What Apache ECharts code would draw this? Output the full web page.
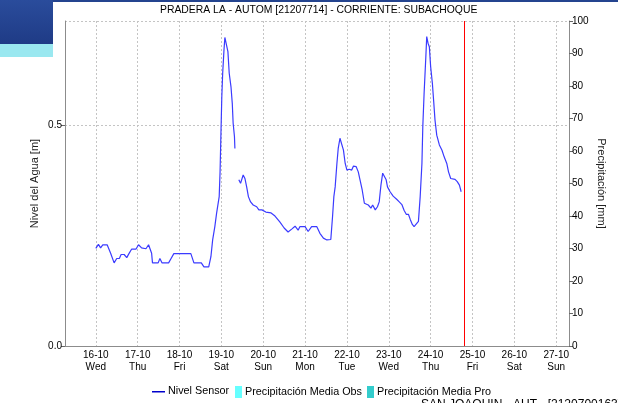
<!DOCTYPE html>
<html>
<head>
<meta charset="utf-8">
<script src="https://cdn.jsdelivr.net/npm/echarts@6/dist/echarts.min.js"></script>
<style>
  html, body { margin: 0; padding: 0; background: #ffffff; }
  #chart { width: 618px; height: 403px; }
</style>
</head>
<body>
<div id="chart"></div>
<script>
// Water level readings (m), station 21207714
const fechas = [
  '2024-10-16 00:00','2024-10-16 01:30','2024-10-16 02:45','2024-10-16 04:00','2024-10-16 06:30',
  '2024-10-16 08:30','2024-10-16 10:30','2024-10-16 12:00','2024-10-16 13:30','2024-10-16 14:30',
  '2024-10-16 16:15','2024-10-16 17:45','2024-10-16 19:00','2024-10-16 20:30','2024-10-16 23:00',
  '2024-10-17 00:30','2024-10-17 02:15','2024-10-17 04:45','2024-10-17 06:15','2024-10-17 08:00',
  '2024-10-17 08:30','2024-10-17 11:45','2024-10-17 12:45','2024-10-17 14:00','2024-10-17 17:45',
  '2024-10-17 19:00','2024-10-17 20:45','2024-10-18 06:30','2024-10-18 08:15','2024-10-18 12:30',
  '2024-10-18 14:00','2024-10-18 16:45','2024-10-18 18:00','2024-10-18 19:00','2024-10-18 20:15',
  '2024-10-18 21:15','2024-10-18 22:45','2024-10-18 23:15','2024-10-18 23:45','2024-10-19 00:15',
  '2024-10-19 00:45','2024-10-19 01:30','2024-10-19 02:00','2024-10-19 03:00','2024-10-19 03:45',
  '2024-10-19 04:30','2024-10-19 05:30','2024-10-19 06:15','2024-10-19 06:45','2024-10-19 07:30',
  '2024-10-19 07:45','2024-10-19 09:00','2024-10-19 10:00','2024-10-19 11:00','2024-10-19 12:30',
  '2024-10-19 13:30','2024-10-19 14:30','2024-10-19 15:30','2024-10-19 16:45','2024-10-19 18:15',
  '2024-10-19 20:15','2024-10-19 21:30','2024-10-19 23:15','2024-10-20 01:30','2024-10-20 04:30',
  '2024-10-20 06:45','2024-10-20 09:30','2024-10-20 12:00','2024-10-20 14:15','2024-10-20 16:30',
  '2024-10-20 18:15','2024-10-20 20:00','2024-10-20 21:00','2024-10-21 00:00','2024-10-21 01:45',
  '2024-10-21 03:45','2024-10-21 06:45','2024-10-21 08:30','2024-10-21 10:30','2024-10-21 12:30',
  '2024-10-21 14:45','2024-10-21 15:45','2024-10-21 16:30','2024-10-21 17:15','2024-10-21 18:15',
  '2024-10-21 19:00','2024-10-21 20:00','2024-10-21 21:00','2024-10-21 22:00','2024-10-21 23:00',
  '2024-10-22 00:00','2024-10-22 01:15','2024-10-22 02:45','2024-10-22 03:45','2024-10-22 05:15',
  '2024-10-22 06:30','2024-10-22 07:30','2024-10-22 08:45','2024-10-22 10:00','2024-10-22 11:00',
  '2024-10-22 12:15','2024-10-22 13:45','2024-10-22 14:45','2024-10-22 16:15','2024-10-22 17:30',
  '2024-10-22 18:30','2024-10-22 19:30','2024-10-22 20:30','2024-10-22 21:15','2024-10-22 22:30',
  '2024-10-22 23:15','2024-10-23 00:45','2024-10-23 02:30','2024-10-23 04:30','2024-10-23 06:00',
  '2024-10-23 07:30','2024-10-23 08:45','2024-10-23 10:00','2024-10-23 11:15','2024-10-23 12:15',
  '2024-10-23 13:30','2024-10-23 14:30','2024-10-23 15:30','2024-10-23 17:00','2024-10-23 18:00',
  '2024-10-23 19:00','2024-10-23 19:30','2024-10-23 20:15','2024-10-23 21:15','2024-10-23 21:45',
  '2024-10-23 22:30','2024-10-23 23:15','2024-10-24 00:00','2024-10-24 01:00','2024-10-24 01:45',
  '2024-10-24 02:30','2024-10-24 03:30','2024-10-24 05:00','2024-10-24 06:30','2024-10-24 07:45',
  '2024-10-24 09:15','2024-10-24 10:15','2024-10-24 11:30','2024-10-24 14:00','2024-10-24 15:15',
  '2024-10-24 16:30','2024-10-24 17:30'
];
const nivelSensor = [
  0.221,0.230,0.222,0.229,0.229,
  0.210,0.188,0.198,0.198,0.207,
  0.207,0.200,0.209,0.219,0.219,
  0.229,0.222,0.220,0.229,0.210,
  0.188,0.188,0.198,0.188,0.188,
  0.197,0.209,0.209,0.188,0.188,
  0.179,0.179,0.202,0.240,0.270,
  0.300,0.338,0.394,0.481,0.564,
  0.617,0.670,0.698,0.698,0.666,
  0.617,0.587,0.549,0.504,0.474,
  0.447,null,0.376,0.368,0.387,
  0.379,0.360,0.338,0.326,0.319,
  0.315,0.308,0.308,0.303,0.301,
  0.294,0.281,0.267,0.258,0.265,
  0.271,0.262,0.270,0.270,0.259,
  0.270,0.270,0.255,0.244,0.240,
  0.241,0.293,0.338,0.360,0.413,
  0.447,0.470,0.466,0.443,0.413,
  0.398,0.400,0.398,0.407,0.406,
  0.394,0.376,0.353,0.323,0.319,
  0.319,0.312,0.319,0.308,0.315,
  0.326,0.364,0.391,0.391,0.376,
  0.360,0.349,0.339,0.332,0.326,
  0.320,0.307,0.298,0.298,0.287,
  0.275,0.270,0.272,0.282,0.338,
  0.413,0.496,0.572,0.655,0.700,
  0.685,0.677,0.632,0.594,0.553,
  0.511,0.477,0.455,0.443,0.428,
  0.413,0.394,0.379,0.377,0.372,
  0.364,0.349
];
// Precipitation series (mm): no records in this window
const precipObs = [];
const precipPro = [];

// Axis settings
const inicio = '2024-10-15 06:20';
const fin = '2024-10-27 07:20';
const ahora = '2024-10-24 19:20';
const nivelMax = 0.7353;
const precipTicks = { min: 0, max: 100, interval: 10 };
const diasSemana = ['Sun', 'Mon', 'Tue', 'Wed', 'Thu', 'Fri', 'Sat'];

const titulo = 'PRADERA LA - AUTOM [21207714] - CORRIENTE: SUBACHOQUE';
const pie = 'SAN JOAQUIN - AUT - [2120700163] - CORRIENTE: SUBACHOQUE';

const FONT = 'Arial, "Liberation Sans", sans-serif';
const DAY = 24 * 3600 * 1000;

// 'YYYY-MM-DD HH:mm' -> local timestamp
function ts(s) {
  const m = s.match(/(\d+)-(\d+)-(\d+) (\d+):(\d+)/);
  return new Date(+m[1], +m[2] - 1, +m[3], +m[4], +m[5]).getTime();
}
function pad(n) { return (n < 10 ? '0' : '') + n; }

const nivelData = fechas.map((f, i) => [ts(f), nivelSensor[i]]);
const xMin = ts(inicio);
const xMax = ts(fin);

const chart = echarts.init(document.getElementById('chart'), null, { renderer: 'canvas' });

const legendText = { fontFamily: FONT, fontSize: 10.8, color: '#000000', padding: [0, 0, 0, -2] };

chart.setOption({
  backgroundColor: '#ffffff',
  animation: false,
  textStyle: { fontFamily: FONT },
  title: {
    text: titulo,
    left: 160,
    top: 5,
    padding: 0,
    textStyle: { fontFamily: FONT, fontSize: 10.4, fontWeight: 'normal', color: '#000000' }
  },
  graphic: [
    { type: 'rect', shape: { x: 0, y: 0, width: 618, height: 2 }, style: { fill: '#24448f' }, silent: true },
    { type: 'rect', shape: { x: 0, y: 0, width: 53, height: 44 },
      style: { fill: new echarts.graphic.LinearGradient(0, 0, 0, 1, [
        { offset: 0, color: '#2a4c9c' }, { offset: 1, color: '#1f3b86' }]) }, silent: true },
    { type: 'rect', shape: { x: 0, y: 44, width: 53, height: 13 }, style: { fill: '#9ae8f0' }, silent: true },
    { type: 'text', left: 421, top: 399,
      style: { text: pie, fontFamily: FONT, fontSize: 12, fill: '#000000' }, silent: true }
  ],
  legend: [
    { data: [{ name: 'Nivel Sensor', icon: 'path://M0,5H13V6.4H0Z M0,0h0.01v0.01h-0.01Z M13,11h-0.01v-0.01h0.01Z' }],
      left: 152, top: 386, padding: 0, itemWidth: 13, itemHeight: 11, itemGap: 0, textStyle: legendText },
    { data: [{ name: 'Precipitación Media Obs', icon: 'rect', itemStyle: { color: '#66ffff' } }],
      left: 235, top: 386, padding: 0, itemWidth: 7, itemHeight: 12, itemGap: 0, textStyle: legendText },
    { data: [{ name: 'Precipitación Media Pro', icon: 'rect', itemStyle: { color: '#33cccc' } }],
      left: 367, top: 386, padding: 0, itemWidth: 7, itemHeight: 12, itemGap: 0, textStyle: legendText }
  ],
  grid: { left: 65, right: 49, top: 21, bottom: 57, containLabel: false },
  xAxis: [
    {
      type: 'time',
      min: xMin,
      max: xMax,
      minInterval: DAY,
      maxInterval: DAY,
      axisLine: { show: true, lineStyle: { color: '#333333', type: [1, 1], width: 1 } },
      axisTick: { show: false },
      splitLine: { show: true, lineStyle: { color: '#c4c4c4', type: [2, 2], width: 1 } },
      axisLabel: {
        fontFamily: FONT, fontSize: 10, color: '#000000', margin: 3, lineHeight: 12,
        formatter: function (v) {
          const d = new Date(v);
          return pad(d.getDate()) + '-' + pad(d.getMonth() + 1) + '\n' + diasSemana[d.getDay()];
        }
      }
    },
    {
      type: 'time', position: 'top', min: xMin, max: xMax,
      axisLine: { show: true, lineStyle: { color: '#8c8c8c', width: 1 } },
      axisTick: { show: false }, axisLabel: { show: false }, splitLine: { show: false }
    }
  ],
  yAxis: [
    {
      type: 'value',
      min: 0,
      max: nivelMax,
      interval: 0.5,
      name: 'Nivel del Agua [m]',
      nameLocation: 'middle',
      nameRotate: 90,
      nameGap: 25,
      nameMoveOverlap: false,
      nameTextStyle: { fontFamily: FONT, fontSize: 11, color: '#222222' },
      axisLine: { show: true, lineStyle: { color: '#8c8c8c', width: 1 } },
      axisTick: { show: true, length: 4, lineStyle: { color: '#666666' } },
      axisLabel: {
        fontFamily: FONT, fontSize: 10, color: '#000000', margin: 3, showMaxLabel: false,
        formatter: function (v) { return v.toFixed(1); }
      },
      splitLine: { show: true, lineStyle: { color: '#c4c4c4', type: [2, 2], width: 1 } }
    },
    {
      type: 'value',
      min: precipTicks.min,
      max: precipTicks.max,
      interval: precipTicks.interval,
      position: 'right',
      name: 'Precipitación [mm]',
      nameLocation: 'middle',
      nameRotate: -90,
      nameGap: 27,
      nameMoveOverlap: false,
      nameTextStyle: { fontFamily: FONT, fontSize: 11, color: '#222222' },
      axisLine: { show: true, lineStyle: { color: '#8c8c8c', width: 1 } },
      axisTick: { show: true, length: 4, lineStyle: { color: '#666666' } },
      axisLabel: { fontFamily: FONT, fontSize: 10, color: '#000000', margin: 3 },
      splitLine: { show: false }
    }
  ],
  series: [
    {
      name: 'Nivel Sensor',
      type: 'line',
      xAxisIndex: 0,
      yAxisIndex: 0,
      data: nivelData,
      symbol: 'none',
      connectNulls: false,
      color: '#0000cc',
      lineStyle: { color: '#3b3bff', width: 1.2 }
    },
    {
      // current-time marker
      name: 'ahora',
      type: 'line',
      xAxisIndex: 0,
      yAxisIndex: 0,
      data: [],
      markLine: {
        silent: true,
        symbol: ['none', 'none'],
        label: { show: false },
        lineStyle: { color: '#ff0000', type: 'solid', width: 1, opacity: 1 },
        data: [{ xAxis: ts(ahora) }]
      }
    },
    {
      name: 'Precipitación Media Obs',
      type: 'line',
      xAxisIndex: 0,
      yAxisIndex: 1,
      data: precipObs,
      color: '#66ffff'
    },
    {
      name: 'Precipitación Media Pro',
      type: 'line',
      xAxisIndex: 0,
      yAxisIndex: 1,
      data: precipPro,
      color: '#33cccc'
    }
  ]
});
</script>
</body>
</html>
